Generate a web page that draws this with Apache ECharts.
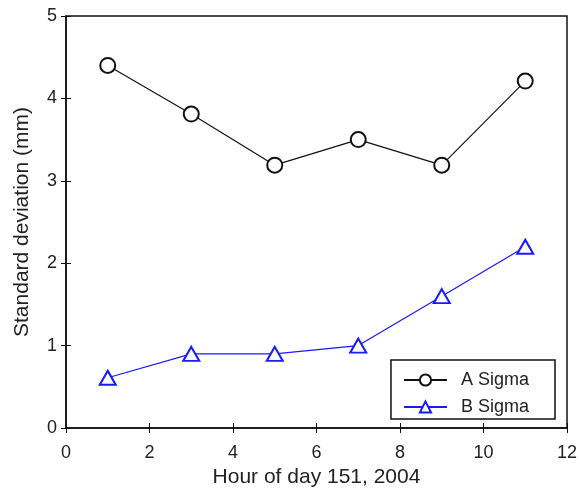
<!DOCTYPE html>
<html>
<head>
<meta charset="utf-8">
<script src="https://cdn.jsdelivr.net/npm/echarts@6/dist/echarts.min.js"></script>
<style>
  html, body { margin: 0; padding: 0; background: #fff; }
  #chart { width: 581px; height: 489px; }
</style>
</head>
<body>
<div id="chart"></div>
<script>
// hours on the x axis
const hours = [1, 3, 5, 7, 9, 11];
// standard deviation values (mm)
const aSigma = [4.4, 3.81, 3.19, 3.5, 3.19, 4.21];
const bSigma = [0.61, 0.9, 0.9, 1.0, 1.6, 2.2];

const font = 'Liberation Sans, Arial, sans-serif';
const txt = '#222';

const chart = echarts.init(document.getElementById('chart'));

function pairs(ys) {
  return hours.map((h, i) => [h, ys[i]]);
}

chart.setOption({
  animation: false,
  backgroundColor: '#fff',
  grid: {
    left: 66, right: 14, top: 16, bottom: 61,
    outerBoundsMode: 'none',
    show: true, borderColor: '#111', borderWidth: 1.5
  },
  legend: {
    right: 26, top: 360,
    orient: 'vertical',
    itemWidth: 43, itemHeight: 14, itemGap: 9,
    padding: [11, 26, 3, 12],
    borderColor: '#111', borderWidth: 1.5,
    backgroundColor: '#fff',
    textStyle: { fontFamily: font, fontSize: 18, color: txt, padding: [0, 0, 0, 9] },
    data: ['A Sigma', 'B Sigma']
  },
  xAxis: [{
    type: 'value', min: 0, max: 12, interval: 2,
    name: 'Hour of day 151, 2004', nameLocation: 'middle', nameGap: 36,
    nameTextStyle: { fontFamily: font, fontSize: 21, color: txt },
    axisLine: { lineStyle: { color: '#111', width: 1.5 } },
    axisTick: { inside: true, length: 5, lineStyle: { color: '#111' } },
    axisLabel: { fontFamily: font, fontSize: 18, color: txt, margin: 16 },
    splitLine: { show: false }
  }, {
    type: 'value', min: 0, max: 12, interval: 2, position: 'top',
    axisLine: { show: false },
    axisTick: { inside: true, length: 5, lineStyle: { color: '#111' } },
    axisLabel: { show: false }, splitLine: { show: false }
  }],
  yAxis: [{
    type: 'value', min: 0, max: 5, interval: 1,
    name: 'Standard deviation (mm)', nameLocation: 'middle', nameGap: 33,
    nameTextStyle: { fontFamily: font, fontSize: 21, color: txt },
    axisLine: { show: true, lineStyle: { color: '#111', width: 1.5 } },
    axisTick: { show: true, inside: true, length: 5, lineStyle: { color: '#111' } },
    axisLabel: { fontFamily: font, fontSize: 18, color: txt, margin: 9 },
    splitLine: { show: false }
  }, {
    type: 'value', min: 0, max: 5, interval: 1, position: 'right',
    axisLine: { show: false },
    axisTick: { show: true, inside: true, length: 5, lineStyle: { color: '#111' } },
    axisLabel: { show: false }, splitLine: { show: false }
  }],
  series: [{
    name: 'A Sigma', type: 'line',
    data: pairs(aSigma),
    symbol: 'emptyCircle', symbolSize: 15,
    lineStyle: { color: '#111', width: 1.2 },
    itemStyle: { color: '#111', borderWidth: 1.2 }
  }, {
    name: 'B Sigma', type: 'line',
    data: pairs(bSigma),
    symbol: 'emptyTriangle', symbolSize: [16, 14],
    lineStyle: { color: '#1a1aff', width: 1.2 },
    itemStyle: { color: '#1a1aff', borderWidth: 1.2 }
  }]
});
</script>
</body>
</html>
